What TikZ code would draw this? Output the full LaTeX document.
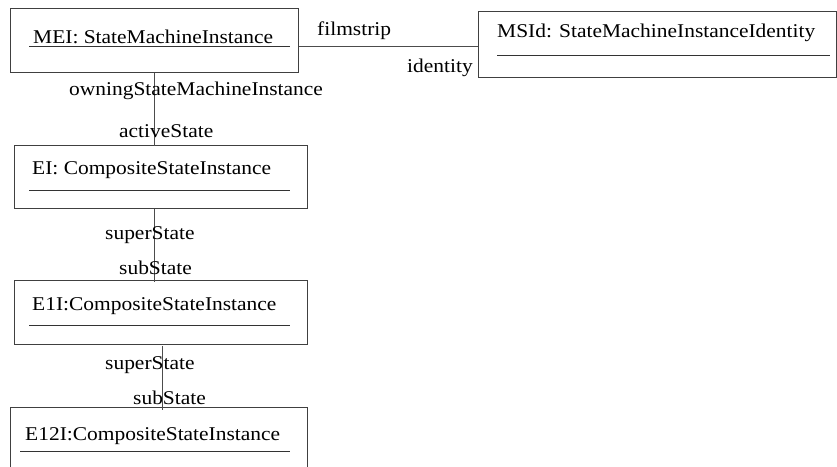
\documentclass[tikz,border=0pt]{standalone}
\usepackage{fontspec}
\setmainfont{Liberation Serif}[FakeStretch=1.1]
\begin{document}
\begin{tikzpicture}[x=1pt,y=-1pt,
  obj/.style={draw=black!75, line width=0.9pt, fill=none},
  ttl/.style={anchor=base west, inner sep=0pt, font=\fontsize{19.5}{22}\selectfont},
  lbl/.style={anchor=base west, inner sep=0pt, font=\fontsize{19.5}{22}\selectfont},
  uline/.style={draw=black!80, line width=0.9pt},
  conn/.style={draw=black!70, line width=0.9pt}]
\useasboundingbox (0,0) rectangle (837,466);
\clip (0,0) rectangle (837,466);
% boxes
\draw[obj] (10.5,8) rectangle (298.5,72.5);
\coordinate (meiS) at (154,72.5);
\draw[obj] (478,11) rectangle (836,77);
\draw[obj] (14,145.5) rectangle (307,208);
\draw[obj] (14,280.5) rectangle (307,344);
\draw[obj] (10,407.5) rectangle (307,490);
% titles
\node[ttl] (meit) at (33,43) {MEI: StateMachineInstance};
\draw[uline] (29,46) -- (290,46);
\node[ttl] (msidt) at (497,37) {MSId: StateMachineInstanceIdentity};
\draw[uline] (497,55) -- (830,55);
\node[ttl] (eit) at (32,174) {EI: CompositeStateInstance};
\draw[uline] (29,190) -- (290,190);
\node[ttl] (e1it) at (32,310) {E1I:CompositeStateInstance};
\draw[uline] (29,325) -- (290,325);
\node[ttl] (e12it) at (25,440) {E12I:CompositeStateInstance};
\draw[uline] (20,451) -- (290,451);
% connectors
\coordinate (meiE) at (298.5,46);
\coordinate (msidW) at (478,46);
\draw[conn] (meiE) -- (msidW);
\coordinate (eiN) at (154,145.5);
\draw[conn] (meiS) -- (eiN);
\coordinate (eiS) at (154,209);
\coordinate (e1iN) at (154,282);
\draw[conn] (eiS) -- (e1iN);
\coordinate (e1iS) at (162,346);
\coordinate (e12iN) at (162,410);
\draw[conn] (e1iS) -- (e12iN);
% role labels
\node[lbl] (film) at (317,35) {filmstrip};
\node[lbl] (ident) at (407,72) {identity};
\node[lbl] (owning) at (69,95) {owningStateMachineInstance};
\node[lbl] (active) at (119,137) {activeState};
\node[lbl] (sup1) at (105,239) {superState};
\node[lbl] (sub1) at (119,274) {subState};
\node[lbl] (sup2) at (105,369) {superState};
\node[lbl] (sub2) at (133,404) {subState};
\end{tikzpicture}
\end{document}
